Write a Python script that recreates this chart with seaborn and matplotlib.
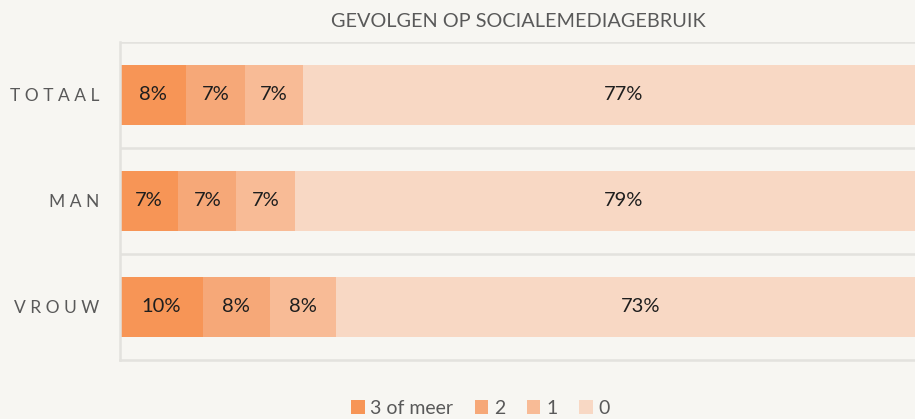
import numpy as np
import pandas as pd
import matplotlib
matplotlib.use("Agg")
import matplotlib.pyplot as plt
from matplotlib.patches import Patch
import seaborn as sns

groups = ["TOTAAL", "MAN", "VROUW"]
series = ["3 of meer", "2", "1", "0"]
val_3plus = [8, 7, 10]
val_2 = [7, 7, 8]
val_1 = [7, 7, 8]
val_0 = [77, 79, 73]
colors = ["#F79556", "#F6A878", "#F8BB96", "#F8D8C4"]
bg = "#F7F6F2"
grid_col = "#E3E2DE"
text_col = "#595959"

sns.set_theme(style="white")
plt.rcParams["font.family"] = ["Lato", "DejaVu Sans"]

vals = np.array([val_3plus, val_2, val_1, val_0], dtype=float)
cum = vals.cumsum(axis=0)

fig = plt.figure(figsize=(9.15, 4.19), dpi=100, facecolor=bg)
ax = fig.add_axes([0.131, 0.141, 0.869, 0.759])
ax.set_facecolor(bg)

# stacked bars: draw the cumulative totals from widest to narrowest
for i in range(len(series) - 1, -1, -1):
    df = pd.DataFrame({"group": groups, "value": cum[i]})
    sns.barplot(data=df, x="value", y="group", color=colors[i], width=0.57,
                saturation=1, linewidth=0, ax=ax)

for i in range(len(series)):
    for j, g in enumerate(groups):
        left = cum[i][j] - vals[i][j]
        ax.text(left + vals[i][j] / 2, j, f"{int(vals[i][j])}%", ha="center",
                va="center", fontsize=14.5, color="#1E1E1E")

ax.set_xlim(0, 95.5)
ax.set_ylim(2.5, -0.5)
for y in [-0.5, 0.5, 1.5]:
    ax.axhline(y, color=grid_col, lw=1.8, zorder=0)
for s in ["top", "right"]:
    ax.spines[s].set_visible(False)
for s in ["left", "bottom"]:
    ax.spines[s].set_color(grid_col)
    ax.spines[s].set_linewidth(1.8)

ax.set_xticks([])
ax.set_xlabel("")
ax.set_ylabel("")
ax.set_yticks(range(len(groups)))
ax.set_yticklabels([" ".join(g) for g in groups], fontsize=12.5, color=text_col)
ax.tick_params(axis="y", length=0, pad=15)

fig.text(0.566, 0.948, "GEVOLGEN OP SOCIALEMEDIAGEBRUIK", ha="center", va="center",
         fontsize=14.3, color=text_col)

handles = [Patch(facecolor=c, edgecolor="none") for c in colors]
fig.legend(handles, series, loc="center", bbox_to_anchor=(0.525, 0.026), ncol=4,
           frameon=False, fontsize=14, labelcolor=text_col, handlelength=0.7,
           handleheight=0.7, handletextpad=0.3, columnspacing=1.1)

fig.savefig("out.png", dpi=100, facecolor=bg)
